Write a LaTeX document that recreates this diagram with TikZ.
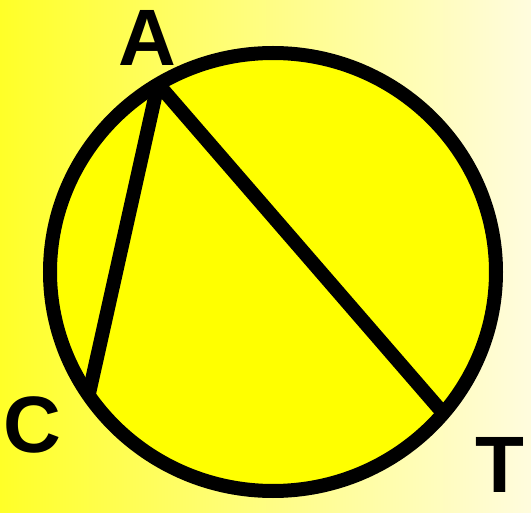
\documentclass[tikz,border=0pt]{standalone}
\usepackage{fontspec}
\setmainfont{Liberation Sans}
\usetikzlibrary{positioning}
\definecolor{bgleft}{RGB}{255,255,40}
\definecolor{bgright}{RGB}{255,252,222}
\definecolor{discfill}{RGB}{255,255,0}

\begin{document}
\begin{tikzpicture}[x=1pt, y=-1pt,
    vertexlabel/.style={font=\fontsize{80}{80}\selectfont\bfseries, inner sep=0pt},
    chord/.style={line width=14pt}]
  \useasboundingbox (0,0) rectangle (531,513);
  % background
  \shade[left color=bgleft, right color=bgright] (0,0) rectangle (531,513);
  % circle
  \draw[line width=14pt, fill=discfill] (273,272)
    ellipse [x radius=223pt, y radius=219pt];
  % points on the circle
  \coordinate (A) at (158,84);
  \coordinate (C) at (88,398);
  \coordinate (T) at (443,413);
  \draw[chord] (A) -- (C);
  \draw[chord] (A) -- (T);
  % labels
  \node[vertexlabel] (labA) at (147,38) {A};
  \node[vertexlabel] (labC) at (32,425) {C};
  \node[vertexlabel] (labT) at (500,465) {T};
\end{tikzpicture}
\end{document}
